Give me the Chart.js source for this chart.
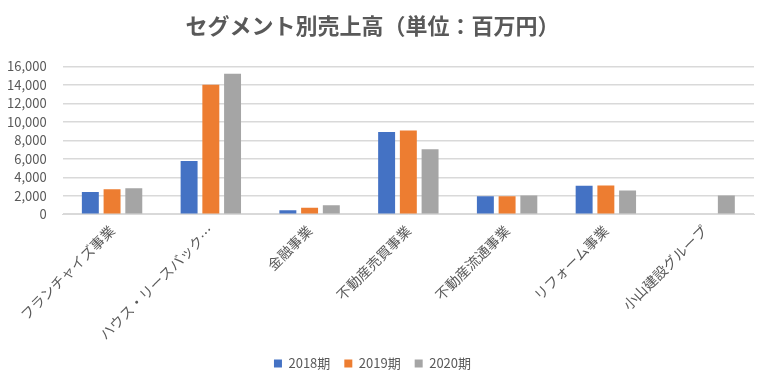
<!DOCTYPE html>
<html>
<head>
<meta charset="utf-8">
<script src="https://cdn.jsdelivr.net/npm/chart.js@4/dist/chart.umd.min.js"></script>
<style>
  body { margin: 0; background: #fff; }
  #wrap { width: 770px; height: 384px; }
</style>
</head>
<body>
<div id="wrap"><canvas id="myChart"></canvas></div>
<script>
// Data (unit: million yen)
var categories = ['フランチャイズ事業', 'ハウス・リースバック事業', '金融事業', '不動産売買事業', '不動産流通事業', 'リフォーム事業', '小山建設グループ'];
var series2018 = [2400, 5750, 440, 8900, 1940, 3080, null];
var series2019 = [2710, 14020, 700, 9050, 1940, 3110, null];
var series2020 = [2820, 15200, 960, 7030, 2020, 2570, 2020];
var yTicks = [0, 2000, 4000, 6000, 8000, 10000, 12000, 14000, 16000];

var fontFamily = '"Noto Sans CJK JP", "Noto Sans", sans-serif';
var textColor = '#595959';

var ctx = document.getElementById('myChart').getContext('2d');
var myChart = new Chart(ctx, {
    type: 'bar',
    data: {
        labels: categories,
        datasets: [
            { label: '2018期', data: series2018, backgroundColor: '#4472c4' },
            { label: '2019期', data: series2019, backgroundColor: '#ed7d31' },
            { label: '2020期', data: series2020, backgroundColor: '#a5a5a5' }
        ]
    },
    options: {
        responsive: true,
        maintainAspectRatio: false,
        animation: false,
        categoryPercentage: 0.66,
        barPercentage: 0.78,
        layout: { padding: { left: -9, right: 16, top: 6, bottom: 4 } },
        plugins: {
            title: {
                display: true,
                text: 'セグメント別売上高（単位：百万円）',
                color: textColor,
                font: { family: fontFamily, size: 22, weight: 'bold' },
                padding: { top: 6, bottom: 28 }
            },
            legend: {
                position: 'bottom',
                labels: {
                    color: textColor,
                    font: { family: fontFamily, size: 13 },
                    boxWidth: 8,
                    boxHeight: 8,
                    padding: 14
                }
            },
            tooltip: { enabled: false }
        },
        scales: {
            x: {
                grid: { display: false },
                border: { color: '#d9d9d9' },
                ticks: {
                    color: textColor,
                    padding: 0,
                    font: { family: fontFamily, size: 14 },
                    minRotation: 45,
                    maxRotation: 45,
                    autoSkip: false,
                    callback: function(value) {
                        var s = this.getLabelForValue(value);
                        return s.length > 10 ? s.slice(0, 10) + '…' : s;
                    }
                }
            },
            y: {
                min: 0,
                max: 16000,
                afterBuildTicks: function(axis) {
                    axis.ticks = yTicks.map(function(v) { return { value: v }; });
                },
                grid: { color: '#d9d9d9', lineWidth: 1.5, drawTicks: false },
                border: { display: false },
                ticks: {
                    color: textColor,
                    padding: 16,
                    autoSkip: false,
                    font: { family: fontFamily, size: 13 },
                    callback: function(v) { return v.toLocaleString('en-US'); }
                }
            }
        }
    }
});
</script>
</body>
</html>
